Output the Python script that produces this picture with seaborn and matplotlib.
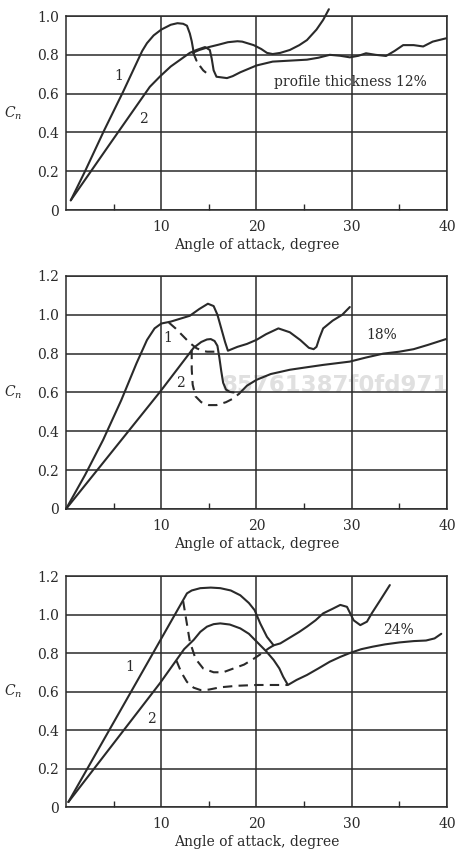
import matplotlib
matplotlib.use('Agg')
import matplotlib.pyplot as plt
import seaborn as sns
import pandas as pd

# panel 1 : profile thickness 12%
p1_c1_x = [0.5, 2, 4, 6, 8.0, 8.5, 9.2, 10, 11, 11.7, 12.3, 12.7, 13.0, 13.2, 13.45, 13.7]
p1_c1_y = [0.05, 0.20, 0.41, 0.61, 0.82, 0.86, 0.90, 0.93, 0.955, 0.963, 0.96, 0.95, 0.91, 0.87, 0.80, 0.77]
p1_d1_x = [13.7, 14.1, 14.4, 14.9]
p1_d1_y = [0.77, 0.74, 0.72, 0.70]
p1_up_x = [13.3, 14, 15, 16, 17, 18, 18.5, 19.7, 20.5, 21.1, 21.7, 22.5, 23.5, 24.5, 25.3, 26.3, 27, 27.6]
p1_up_y = [0.81, 0.825, 0.84, 0.852, 0.865, 0.87, 0.868, 0.85, 0.83, 0.81, 0.804, 0.81, 0.825, 0.85, 0.876, 0.93, 0.98, 1.035]
p1_c2_x = [0.5, 4.6, 8.8, 9.9, 11, 12, 13, 13.7, 14.6, 15.1, 15.3, 15.5, 15.8, 16.9, 17.5, 18.3, 20, 21.7,
           23.5, 25.3, 26.5, 27.7, 28.8, 29.8, 30.7, 31.5, 32.5, 33.6, 34.5, 35.4, 36.5, 37.5, 38.5, 39.9]
p1_c2_y = [0.05, 0.34, 0.635, 0.69, 0.74, 0.775, 0.81, 0.825, 0.84, 0.825, 0.78, 0.72, 0.687, 0.68, 0.69, 0.71, 0.745, 0.765,
           0.77, 0.775, 0.785, 0.80, 0.795, 0.787, 0.795, 0.808, 0.80, 0.794, 0.82, 0.85, 0.85, 0.843, 0.868, 0.885]

# panel 2 : 18%
p2_c1_x = [0, 2, 3.9, 5.8, 7.4, 8.5, 9.3, 10, 11, 12, 13, 14, 14.9, 15.5, 15.9, 16.3, 16.7, 17.0, 18, 19, 20,
           21, 22.3, 23.5, 24.6, 25.5, 26, 26.3, 26.6, 27, 28, 29, 29.8]
p2_c1_y = [0, 0.175, 0.356, 0.56, 0.75, 0.87, 0.93, 0.955, 0.965, 0.98, 0.995, 1.03, 1.057, 1.045, 1.0, 0.93, 0.86, 0.815, 0.835, 0.85, 0.871,
           0.90, 0.93, 0.91, 0.87, 0.83, 0.823, 0.835, 0.88, 0.93, 0.97, 1.0, 1.04]
p2_d1_x = [10.8, 11.5, 12.3, 13, 13.7, 14.3, 14.8, 15.5, 16.2]
p2_d1_y = [0.96, 0.93, 0.89, 0.855, 0.828, 0.815, 0.81, 0.81, 0.812]
p2_c2_x = [0, 9.9, 13.4, 14.2, 14.8, 15.2, 15.6, 15.9, 16.1, 16.3, 16.5, 16.8, 17.2, 17.6]
p2_c2_y = [0, 0.605, 0.83, 0.86, 0.873, 0.875, 0.865, 0.84, 0.78, 0.71, 0.65, 0.615, 0.603, 0.60]
p2_lo_x = [18.2, 19, 20, 21.5, 23.5, 25.3, 27, 29.8, 31.5, 33.3, 35, 36.5, 38, 39.9]
p2_lo_y = [0.595, 0.635, 0.665, 0.695, 0.717, 0.73, 0.742, 0.759, 0.78, 0.80, 0.81, 0.823, 0.845, 0.875]
p2_d2_x = [13.2, 13.2, 13.3, 13.6, 14.2, 15, 15.8, 16.8, 17.6, 18.2]
p2_d2_y = [0.82, 0.72, 0.64, 0.58, 0.55, 0.535, 0.535, 0.55, 0.57, 0.595]

# panel 3 : 24%
p3_c1_x = [0.25, 12.3, 12.7, 13.2, 14.1, 15.2, 16.2, 17.3, 18.3, 19.2, 19.8, 20.4, 21.1, 21.8, 22.5, 23.5, 24.5,
           25.3, 26.2, 27, 28, 28.8, 29.5, 30.2, 30.9, 31.6, 32.1, 33, 34]
p3_c1_y = [0.026, 1.075, 1.11, 1.125, 1.137, 1.14, 1.137, 1.125, 1.10, 1.06, 1.023, 0.953, 0.884, 0.84, 0.85, 0.88, 0.91,
           0.937, 0.97, 1.006, 1.03, 1.05, 1.04, 0.97, 0.945, 0.963, 1.006, 1.075, 1.153]
p3_d1_x = [12.3, 12.6, 13.0, 13.6, 14.4, 15.5, 16.5, 17.6, 18.7, 19.7, 20.6, 21.3, 21.8]
p3_d1_y = [1.07, 0.98, 0.86, 0.77, 0.72, 0.70, 0.70, 0.72, 0.74, 0.77, 0.80, 0.825, 0.84]
p3_c2_x = [0.25, 9.86, 11.6, 12.4, 13.4, 14.1, 14.8, 15.5, 16.2, 17.2, 18.3, 19.2, 20, 21, 21.8, 22.4, 22.8, 23.3,
           24.2, 25.3, 26.5, 27.7, 28.8, 29.8, 31, 32.2, 33.5, 35, 36.5, 37.8, 38.7, 39.4]
p3_c2_y = [0.026, 0.643, 0.764, 0.82, 0.868, 0.91, 0.937, 0.95, 0.954, 0.948, 0.928, 0.9, 0.86, 0.81, 0.764, 0.72, 0.677, 0.634,
           0.66, 0.686, 0.72, 0.755, 0.78, 0.80, 0.82, 0.833, 0.845, 0.855, 0.862, 0.865, 0.876, 0.90]
p3_d2_x = [11.6, 12.1, 12.7, 13.4, 14.1, 15, 16.2, 18, 20, 23.3]
p3_d2_y = [0.76, 0.70, 0.65, 0.62, 0.608, 0.61, 0.622, 0.63, 0.634, 0.634]

x_ticks = [10, 20, 30, 40]
x_minor = [5, 15, 25, 35]
x_label = 'Angle of attack, degree'
y_label = '$C_n$'

sns.set_theme(style='white')
plt.rcParams['font.family'] = ['DejaVu Serif']
plt.rcParams['mathtext.fontset'] = 'dejavuserif'

ink = '#2a2a2a'
solid = dict(color=ink, linewidth=1.5, sort=False, estimator=None, clip_on=False)
dashed = dict(solid, linestyle=(0, (4.5, 3)))
# short piece after the stall drop: gap first, then one dash
gapdash = dict(solid, linestyle=(4.5, (4.5, 3)))

fig = plt.figure(figsize=(4.59, 8.52), dpi=100)
rects = [[0.1438, 0.7535, 0.830, 0.2277],
         [0.1438, 0.4026, 0.830, 0.2735],
         [0.1438, 0.0528, 0.830, 0.2711]]
ymax = [1.0, 1.2, 1.2]

panels = [
    [(p1_c1_x, p1_c1_y, solid), (p1_d1_x, p1_d1_y, gapdash), (p1_up_x, p1_up_y, solid), (p1_c2_x, p1_c2_y, solid)],
    [(p2_c1_x, p2_c1_y, solid), (p2_d1_x, p2_d1_y, dashed), (p2_c2_x, p2_c2_y, solid),
     (p2_lo_x, p2_lo_y, solid), (p2_d2_x, p2_d2_y, dashed)],
    [(p3_c1_x, p3_c1_y, solid), (p3_d1_x, p3_d1_y, dashed), (p3_c2_x, p3_c2_y, solid), (p3_d2_x, p3_d2_y, dashed)],
]

axes = []
for rect, top, lines in zip(rects, ymax, panels):
    ax = fig.add_axes(rect)
    for xs, ys, style in lines:
        df = pd.DataFrame({'x': xs, 'y': ys})
        sns.lineplot(data=df, x='x', y='y', ax=ax, **style)
    ax.set_xlim(0, 40)
    ax.set_ylim(0, top)
    ax.set_xticks(x_ticks)
    ax.set_xticks(x_minor, minor=True)
    yt = [round(0.2 * i, 1) for i in range(int(round(top / 0.2)) + 1)]
    ax.set_yticks(yt)
    ax.set_yticklabels(['0'] + ['%.1f' % v for v in yt[1:]])
    ax.grid(True, which='major', color=ink, linewidth=1.1)
    ax.tick_params(which='major', length=0, labelsize=10, colors=ink)
    ax.tick_params(axis='x', which='major', pad=7)
    ax.tick_params(axis='y', which='major', pad=5)
    ax.tick_params(axis='x', which='minor', direction='in', length=4, width=1, color=ink, bottom=True)
    for s in ax.spines.values():
        s.set_color(ink)
        s.set_linewidth(1.1)
    ax.set_xlabel(x_label, fontsize=10, color=ink, labelpad=3)
    ax.set_ylabel(y_label, fontsize=10, color=ink, rotation=0, ha='center', va='center')
    ax.yaxis.set_label_coords(-0.14, 0.5)
    axes.append(ax)

tk = dict(fontsize=10, color=ink, ha='center', va='center')
axes[0].text(5.5, 0.69, '1', **tk)
axes[0].text(8.1, 0.47, '2', **tk)
axes[0].text(29.9, 0.66, 'profile thickness 12%', **tk)
axes[1].text(10.7, 0.88, '1', **tk)
axes[1].text(12.0, 0.648, '2', **tk)
axes[1].text(33.1, 0.897, '18%', **tk)
axes[1].text(28.3, 0.60, '85761387f0fd971', fontsize=16.5, fontweight='bold', color='#e0e0e0',
             family='DejaVu Sans', ha='center', va='baseline', clip_on=False, zorder=0.5)
axes[2].text(6.7, 0.73, '1', **tk)
axes[2].text(9.0, 0.455, '2', **tk)
axes[2].text(34.9, 0.92, '24%', **tk)

plt.savefig('out.png', dpi=100)
